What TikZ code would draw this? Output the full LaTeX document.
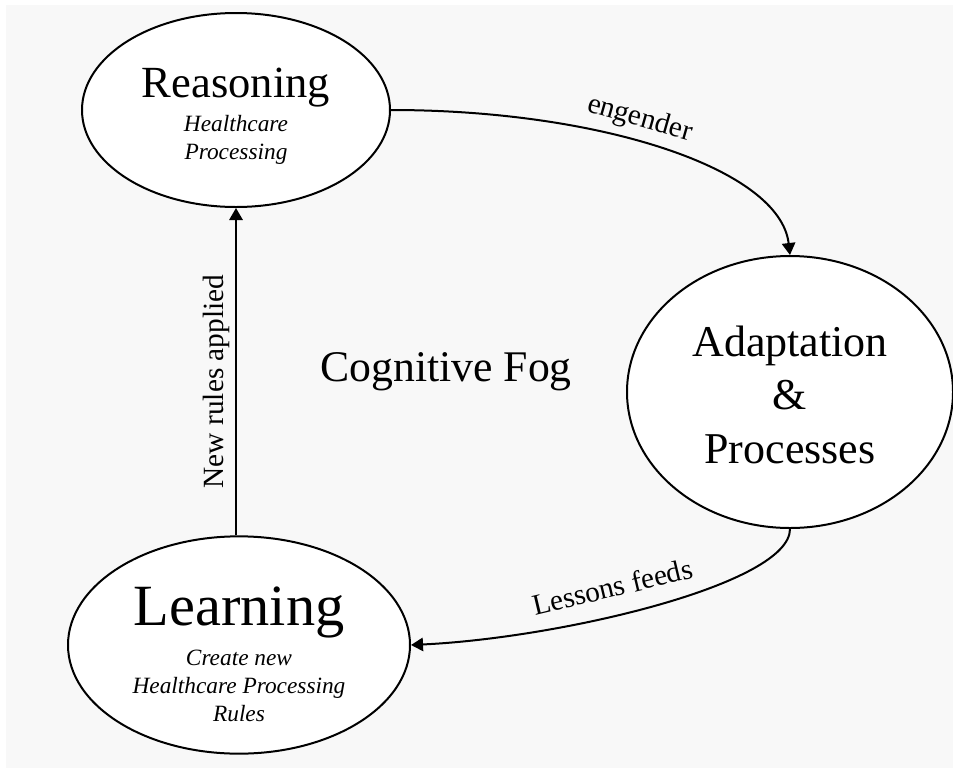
\documentclass[tikz,border=0pt]{standalone}
\usepackage{fontspec}
\setmainfont{Liberation Serif}
\usetikzlibrary{arrows.meta,shapes.geometric}
\definecolor{fogbg}{HTML}{F8F8F8}
\begin{document}
\begin{tikzpicture}
  [x=0.75pt,y=0.75pt,
   stage/.style={ellipse,draw,line width=1.5pt,fill=white,inner sep=0pt,align=center},
   flow/.style={line width=1.5pt,-{Triangle[length=9pt,width=10pt]}},
   flowlabel/.style={inner sep=2pt,font=\fontsize{22}{26}\selectfont}]
  \useasboundingbox (0,0) rectangle (953,-768);
  \fill[fogbg] (6,-5) rectangle (953,-768);
  \node[stage,minimum width=231pt,minimum height=145.5pt,font=\fontsize{17.5}{21}\selectfont]
    (reas) at (236,-110)
    {{\fontsize{33.4}{36}\selectfont\rule{0pt}{32pt}Reasoning}\\[4.5pt]\textit{Healthcare}\\\textit{Processing}};
  \node[stage,minimum width=244.5pt,minimum height=204pt,font=\fontsize{33}{40}\selectfont]
    (adapt) at (790,-392) {\rule{0pt}{27pt}Adaptation\\\&\\Processes};
  \node[stage,minimum width=256.5pt,minimum height=161pt,font=\fontsize{17.5}{21}\selectfont]
    (learn) at (239,-645)
    {{\fontsize{43.8}{46}\selectfont\rule{0pt}{43pt}Learning}\\[8pt]\textit{Create new}\\\textit{Healthcare Processing}\\\textit{Rules}};
  \node[font=\fontsize{32.8}{38}\selectfont] (fog) at (446,-372) {Cognitive Fog};
  \draw[flow] (reas.east) .. controls +(210,0) and +(-10,86) .. (adapt.north)
    node[flowlabel,sloped,above=3.5pt,pos=0.43] {engender};
  \draw[flow] (adapt.south) .. controls +(0,-55) and +(150,7) .. (learn.east)
    node[flowlabel,sloped,above=11pt,pos=0.58] {Lessons feeds};
  \draw[flow] (learn.north -| reas.south) -- (reas.south)
    node[flowlabel,rotate=90,above=2pt,pos=0.47] {New rules applied};
\end{tikzpicture}
\end{document}
